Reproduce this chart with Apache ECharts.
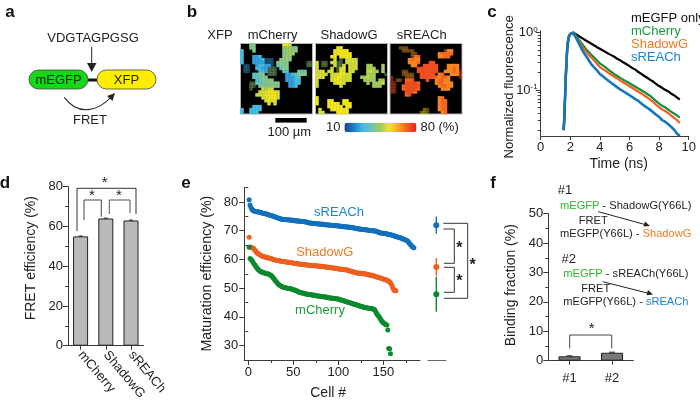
<!DOCTYPE html>
<html><head><meta charset="utf-8">
<style>html,body{margin:0;padding:0;background:#fff}#c{width:700px;height:405px}</style>
<script src="https://cdn.jsdelivr.net/npm/echarts@6/dist/echarts.min.js"></script>
</head><body><div id="c"></div>
<script>
// ---- panel c: fluorescence decay
const timeNs=[1.55,1.6,1.7,1.8,1.9,2.0,2.1,2.2,2.4,2.6,2.8,3.0,3.2,3.4,3.6,3.8,4.0,4.2,4.4,4.6,4.8,5.0,5.2,5.4,5.6,5.8,6.0,6.2,6.4,6.6,6.8,7.0,7.2,7.4,7.6,7.8,8.0,8.2,8.4,8.6,8.8,9.0,9.2,9.4];
const decayEGFP=[.02,.034,.17,.55,.82,.94,.99,1.0,.93,.86,.80,.74,.69,.645,.60,.555,.52,.485,.455,.425,.40,.375,.345,.325,.30,.28,.26,.24,.225,.205,.19,.175,.163,.15,.14,.127,.117,.109,.101,.095,.087,.081,.074,.068];
const decayCherry=[.02,.034,.18,.58,.84,.95,.995,1.0,.88,.74,.63,.54,.47,.415,.37,.33,.29,.268,.244,.222,.204,.187,.173,.161,.15,.14,.131,.122,.114,.106,.099,.092,.085,.079,.071,.064,.058,.053,.05,.046,.042,.039,.036,.033];
const decayShadow=[.02,.036,.2,.62,.86,.96,1.0,.98,.82,.69,.57,.49,.42,.37,.33,.285,.25,.23,.213,.197,.182,.168,.156,.145,.135,.125,.116,.108,.1,.093,.087,.08,.074,.068,.062,.055,.05,.046,.043,.04,.036,.033,.03,.0265];
const decayReach=[.02,.034,.19,.6,.85,.95,.99,.96,.80,.635,.50,.41,.345,.285,.25,.22,.19,.173,.157,.143,.131,.12,.11,.101,.094,.087,.081,.075,.069,.064,.058,.053,.049,.045,.041,.037,.034,.03,.028,.0255,.023,.0205,.0175,.0158];
// ---- panel d
const fretNames=['mCherry','ShadowG','sREACh'];
const fretValues=[55,64,63];
const fretErrors=[.2,.2,.2];
// ---- panel e: one value per cell, sorted
const matReach=[80.8,78.9,78.2,77.5,77.1,76.9,76.8,76.7,76.6,76.6,76.5,76.5,76.4,76.3,76.2,76.1,76.0,76.0,75.9,75.8,75.7,75.6,75.5,75.4,75.3,75.2,75.1,75.0,74.9,74.8,74.7,74.5,74.4,74.3,74.2,74.1,74.0,74.0,73.9,73.9,73.9,73.8,73.8,73.8,73.7,73.7,73.7,73.6,73.6,73.6,73.5,73.5,73.5,73.4,73.4,73.4,73.3,73.3,73.3,73.2,73.2,73.2,73.1,73.0,72.9,72.9,72.8,72.7,72.7,72.6,72.6,72.5,72.5,72.5,72.4,72.4,72.4,72.3,72.3,72.3,72.2,72.2,72.2,72.2,72.1,72.1,72.1,72.0,72.0,72.0,71.9,71.9,71.9,71.8,71.8,71.8,71.7,71.7,71.7,71.6,71.6,71.6,71.5,71.5,71.5,71.4,71.4,71.4,71.3,71.3,71.3,71.2,71.2,71.1,71.1,71.0,71.0,70.9,70.8,70.8,70.7,70.7,70.6,70.6,70.5,70.5,70.4,70.4,70.3,70.3,70.3,70.2,70.2,70.1,70.1,70.1,70.0,70.0,70.0,69.9,69.9,69.8,69.7,69.6,69.4,69.3,69.2,69.2,69.1,69.1,69.0,69.0,68.9,68.9,68.8,68.7,68.7,68.6,68.5,68.4,68.3,68.2,68.1,68.0,67.9,67.8,67.7,67.6,67.5,67.4,67.2,67.1,67.0,66.9,66.8,66.6,66.4,66.1,65.6,65.2,64.9,64.5,64.2,64.1];
const matShadow=[67.7,64.3,64.2,64.1,64.0,63.8,63.4,63.0,62.5,62.2,62.0,61.8,61.6,61.4,61.2,61.1,61.0,60.9,60.8,60.7,60.6,60.5,60.5,60.4,60.3,60.2,60.1,60.0,59.9,59.8,59.7,59.6,59.6,59.5,59.5,59.4,59.4,59.3,59.3,59.2,59.2,59.1,59.1,59.0,59.0,58.9,58.9,58.8,58.8,58.7,58.7,58.6,58.6,58.5,58.5,58.4,58.4,58.3,58.3,58.3,58.2,58.2,58.2,58.1,58.1,58.1,58.0,58.0,58.0,57.9,57.9,57.9,57.8,57.8,57.8,57.7,57.7,57.7,57.6,57.6,57.6,57.5,57.5,57.5,57.4,57.4,57.4,57.3,57.3,57.2,57.2,57.1,57.1,57.0,57.0,56.9,56.9,56.8,56.8,56.7,56.7,56.7,56.6,56.6,56.5,56.5,56.4,56.4,56.3,56.3,56.2,56.1,56.0,55.9,55.8,55.7,55.6,55.5,55.5,55.4,55.3,55.3,55.2,55.2,55.2,55.1,55.1,55.0,55.0,54.9,54.9,54.8,54.7,54.7,54.6,54.5,54.5,54.4,54.3,54.2,54.1,54.0,53.9,53.8,53.7,53.6,53.5,53.4,53.3,53.2,53.1,53.0,52.9,52.7,52.6,52.4,52.2,51.9,51.4,50.6,49.9,49.3,49.2,49.1];
const matCherry=[64.2,60.3,60.1,59.7,59.2,58.6,58.2,57.8,57.3,56.9,56.5,56.2,55.9,55.7,55.6,55.5,55.4,55.3,55.2,55.1,55.0,54.9,54.8,54.7,54.5,54.2,53.9,53.5,53.1,52.7,52.3,51.9,51.5,51.2,51.0,50.8,50.6,50.5,50.3,50.2,50.2,50.1,50.0,50.0,49.9,49.9,49.8,49.7,49.6,49.5,49.4,49.3,49.1,49.0,48.9,48.7,48.6,48.5,48.4,48.3,48.2,48.1,48.1,48.0,47.9,47.9,47.8,47.8,47.7,47.7,47.6,47.6,47.5,47.5,47.4,47.4,47.3,47.3,47.2,47.2,47.1,47.1,47.0,47.0,46.9,46.9,46.8,46.8,46.7,46.7,46.6,46.6,46.5,46.5,46.4,46.4,46.3,46.3,46.2,46.2,46.1,46.0,45.9,45.8,45.7,45.6,45.5,45.4,45.3,45.2,45.1,45.0,44.9,44.8,44.7,44.6,44.5,44.4,44.3,44.2,44.1,44.0,43.9,43.8,43.7,43.6,43.5,43.4,43.4,43.3,43.2,43.1,43.1,43.0,42.9,42.9,42.8,42.8,42.7,42.6,42.2,41.5,41.0,40.6,40.2,39.8,39.2,38.7,38.3,38.0,37.7,37.5,37.3,37.2,35.4,29.0,28.9,27.2];
const matMeans=[71.9,57.4,47.9];
const matSD=[3.0,3.1,6.1];
// ---- panel f
const bindNames=['#1','#2'];
const bindValues=[1.5,2.7];
const bindErrors=[.15,.2];
// ---- panel b: coarse images, one char per cell ('.' is empty)
const imgCherry=["...55.........887.......","...55.........56655.....","3...5.........56655.....","3.............5566......","3...223.......565.......","3...2223bbb..5565.......","3...2222bbb.5555......gg",".bb..23322b.4555......gg",".bb..3322ggg.455........",".bb...332ggg..44...544..","....4455.ggg...2234555..","....44455......22234....",".....445555....22233....","...gg44455555...2233....","...gg.5555555...223.....","...g...7677.............","......7778887...........",".....77788887...........",".......778887...........","........7878............",".........7.7............","....333.................","3..3333.................","3..333.................."];
const imgShadow=["........................",".......88...............","......88888.............","......888888............",".....88.8888............","......7.g.7777..........","7.gg.77gg.7777..........","7.gg..7gg7.777...66...6.","7....7.g78.777...666..6.","777.77.g87.77....7766.6.","7777.7778877.....666...g","777..7788777...66766....","7....7887777....6666.66.","7.....7887.......6.6667.","7.......7..........666..","........................","........................","........................","8.......................","8...88...88.............","8...8888.888............","....88888.88............",".7...888888.............",".77....8888............."];
const imgReach=["........................","...ooo..................","....oooo..........o99...",".......oo.......9AAAA...",".......oAA......99AA....","......9A99..............","......999A...BB.........",".......99..BBBBB...9999.",".........BBBBBBB...99A9.","....oo...BBBBBBB..999A9f","....oooo..BBBBB.9A..999f","f....ooo..BBBBBA9AA9...f","f.oo.AAB....B..9AA99....","ff...BBBBA.....9AA999...","ff..ABBBBB......9AA99...","ff..ABBBBA.......999....","ff...BBBA...............",".....AB.................","................9A......","................9AA.....","................9AA.....","................9AA.....","...........yo...9AA.....","..........yyo....9A....."];
const imgLevels={'2':24,'3':29,'4':34,'5':40,'6':45,'7':50,'8':54,'9':66,'A':70,'B':73,b:24,g:42,y:54,o:64,f:72};
const imgDim='bgyof';

const FONT='"Liberation Sans", Arial, sans-serif', INK='#222', AXIS='#3a3a3a';
const BLUE='#1170bd', ORANGE='#ee5f1f', GREEN='#0b8a2c';
const LG='#2fb52f', LO='#f07a22', LB='#1a84d0';

const grid=[],xAxis=[],yAxis=[],series=[],graphic=[];
const line={show:true,onZero:false,lineStyle:{color:AXIS,width:1}};
const tickStyle=len=>({show:true,length:len,inside:false,lineStyle:{color:AXIS,width:1}});
const lab=(o={})=>Object.assign({color:INK,fontFamily:FONT,fontSize:13},o);
const nameStyle=(o={})=>Object.assign({color:INK,fontFamily:FONT,fontSize:14},o);
function addGrid(l,t,w,h,extra){grid.push(Object.assign({left:l,top:t,width:w,height:h,containLabel:false},extra||{}));return grid.length-1;}

// ---- c
const gc=addGrid(540.7,30.7,148,105.3);
xAxis.push({gridIndex:gc,type:'value',min:0,max:10,interval:2,axisLine:line,axisTick:tickStyle(4),splitLine:{show:false},axisLabel:lab({margin:5}),name:'Time (ns)',nameLocation:'middle',nameGap:21,nameTextStyle:nameStyle({padding:[0,0,0,8]})});
const icx=xAxis.length-1;
yAxis.push({gridIndex:gc,type:'log',logBase:10,min:0.0158,max:1.075,axisLine:line,splitLine:{show:false},
  axisTick:{...tickStyle(5),customValues:[1,0.1]},
  axisLabel:{...lab({margin:3}),customValues:[1,0.1],formatter:v=>v>=0.5?'{b|10}{s|0}':'{b|10}{s|-1}',rich:{b:{color:INK,fontFamily:FONT,fontSize:13},s:{color:INK,fontFamily:FONT,fontSize:8,verticalAlign:'top',padding:[0,0,6,0]}}},
  name:'Normalized fluorescence',nameLocation:'middle',nameGap:25,nameMoveOverlap:false,nameTextStyle:nameStyle({fontSize:13,padding:[0,7,0,0]})});
const icy=yAxis.length-1;
yAxis.push({gridIndex:gc,type:'log',logBase:10,position:'left',min:0.0158,max:1.075,axisLine:{show:false},splitLine:{show:false},axisLabel:{show:false},
  axisTick:{...tickStyle(3),customValues:[.9,.8,.7,.6,.5,.4,.3,.2,.09,.08,.07,.06,.05,.04,.03,.02]}});
const decaySeries=[['mEGFP only',decayEGFP,'#000'],['mCherry',decayCherry,'#0f8f3a'],['ShadowG',decayShadow,'#ee5f1f'],['sREACh',decayReach,'#1575bd']];
decaySeries.forEach(([n,d,c])=>series.push({name:n,type:'line',xAxisIndex:icx,yAxisIndex:icy,showSymbol:false,symbol:'none',clip:false,animation:false,
  data:d.map((v,i)=>[timeNs[i],v]),lineStyle:{color:c,width:n==='sREACh'?2.6:2.2},itemStyle:{color:c}}));

// ---- d
const gd=addGrid(68,186.7,75.6,159);
xAxis.push({gridIndex:gd,type:'category',data:fretNames,axisLine:line,axisTick:{...tickStyle(4),alignWithLabel:true},
  axisLabel:lab({rotate:-50,margin:7,align:'left',verticalAlign:'middle',interval:0})});
const idx=xAxis.length-1;
yAxis.push({gridIndex:gd,type:'value',min:0,max:80,interval:20,axisLine:line,axisTick:tickStyle(5),minorTick:{show:true,splitNumber:2,length:3,lineStyle:{color:AXIS}},minorSplitLine:{show:false},splitLine:{show:false},axisLabel:lab({margin:5}),name:'FRET efficiency (%)',nameLocation:'middle',nameGap:30,nameTextStyle:nameStyle({padding:[0,0,0,16]})});
const idy=yAxis.length-1;
series.push({name:'FRET efficiency',type:'bar',xAxisIndex:idx,yAxisIndex:idy,barWidth:15,data:fretValues,animation:false,itemStyle:{color:'#bababa',borderColor:'#222',borderWidth:1}});
function errSeries(xi,yi,vals,errs,color,width,cap){return {type:'custom',xAxisIndex:xi,yAxisIndex:yi,animation:false,silent:true,z:4,
  data:vals.map((v,i)=>[i,v,errs[i]]),
  renderItem:(p,api)=>{const a=api.coord([api.value(0),api.value(1)-api.value(2)]),b=api.coord([api.value(0),api.value(1)+api.value(2)]);
    const kids=[{type:'line',shape:{x1:a[0],y1:a[1],x2:b[0],y2:b[1]},style:{stroke:color,lineWidth:width}}];
    if(cap)kids.push({type:'line',shape:{x1:b[0]-cap,y1:b[1],x2:b[0]+cap,y2:b[1]},style:{stroke:color,lineWidth:width}});
    return {type:'group',children:kids};}};}
series.push(errSeries(idx,idy,fretValues,fretErrors,'#222',1,2));

// ---- e
const ge=addGrid(244.3,187.3,175.7,172.7);
xAxis.push({gridIndex:ge,type:'value',min:-4.4,max:190.8,axisLine:line,splitLine:{show:false},axisTick:{...tickStyle(5),customValues:[0,50,100,150]},axisLabel:{...lab({margin:6}),customValues:[0,50,100,150]},name:'Cell #',nameLocation:'middle',nameGap:26,nameTextStyle:nameStyle({padding:[0,8,0,0]})});
const iex=xAxis.length-1;
xAxis.push({gridIndex:ge,type:'value',position:'bottom',min:-4.4,max:190.8,axisLine:{show:false},splitLine:{show:false},axisLabel:{show:false},axisTick:{...tickStyle(3),customValues:[25,75,125,175]}});
yAxis.push({gridIndex:ge,type:'value',min:25,max:85.1,axisLine:line,splitLine:{show:false},axisTick:{...tickStyle(5),customValues:[30,40,50,60,70,80]},axisLabel:{...lab({margin:6}),customValues:[30,40,50,60,70,80]},name:'Maturation efficiency (%)',nameLocation:'middle',nameGap:30,nameMoveOverlap:false,nameTextStyle:nameStyle({fontSize:14.2})});
const iey=yAxis.length-1;
yAxis.push({gridIndex:ge,type:'value',position:'left',min:25,max:85.1,axisLine:{show:false},splitLine:{show:false},axisLabel:{show:false},axisTick:{...tickStyle(3),customValues:[35,45,55,65,75,85]}});
[['sREACh cells',matReach,BLUE],['ShadowG cells',matShadow,ORANGE],['mCherry cells',matCherry,GREEN]].forEach(([n,d,c])=>series.push({name:n,type:'scatter',xAxisIndex:iex,yAxisIndex:iey,symbolSize:5,animation:false,data:d.map((v,i)=>[i+1,v]),itemStyle:{color:c,opacity:1}}));

// ---- e side panel
const gs=addGrid(428,187.3,18,172.7);
xAxis.push({gridIndex:gs,type:'category',data:['0','1','2'],axisLine:{show:true,onZero:false,lineStyle:{color:'#666',width:1}},axisTick:{show:false},axisLabel:{show:false}});
const isx=xAxis.length-1;
yAxis.push({gridIndex:gs,type:'value',min:25,max:85.1,show:false,splitLine:{show:false}});
const isy=yAxis.length-1;
const sideColors=[BLUE,ORANGE,GREEN];
series.push({type:'custom',xAxisIndex:isx,yAxisIndex:isy,animation:false,silent:true,z:3,data:matMeans.map((v,i)=>[i,v,matSD[i]]),
  renderItem:(p,api)=>{const x=api.coord([1,0])[0]-0.7,a=api.coord([1,api.value(1)-api.value(2)])[1],b=api.coord([1,api.value(1)+api.value(2)])[1],m=api.coord([1,api.value(1)])[1],c=sideColors[p.dataIndex];
    return {type:'group',children:[{type:'line',shape:{x1:x,y1:a,x2:x,y2:b},style:{stroke:c,lineWidth:1.4}},{type:'circle',shape:{cx:x,cy:m,r:3},style:{fill:c}}]};}});

// ---- f
const gf=addGrid(548.3,213.7,85,147);
xAxis.push({gridIndex:gf,type:'category',data:bindNames,axisLine:line,axisTick:{...tickStyle(4),alignWithLabel:true},axisLabel:lab({margin:11,interval:0})});
const ifx=xAxis.length-1;
yAxis.push({gridIndex:gf,type:'value',min:0,max:50,interval:10,axisLine:line,axisTick:tickStyle(5),minorTick:{show:true,splitNumber:2,length:3,lineStyle:{color:AXIS}},minorSplitLine:{show:false},splitLine:{show:false},axisLabel:lab({margin:5}),name:'Binding fraction (%)',nameLocation:'middle',nameGap:30,nameTextStyle:nameStyle({padding:[0,0,0,4]})});
const ify=yAxis.length-1;
series.push({name:'Binding fraction',type:'bar',xAxisIndex:ifx,yAxisIndex:ify,barWidth:22,data:bindValues,animation:false,itemStyle:{color:'#787878',borderColor:'#222',borderWidth:1}});
series.push(errSeries(ifx,ify,bindValues,bindErrors,'#222',1,3));

// ---- b images
const cellIdx=Array.from({length:24},(_,i)=>String(i));
const imgSeries=[];
[[imgCherry,240.5],[imgShadow,315.5],[imgReach,390]].forEach(([rows,l])=>{
  const g=addGrid(l,43.5,72,70.5,{show:true,backgroundColor:'#000',borderColor:'#b5b5b5',borderWidth:1});
  xAxis.push({gridIndex:g,type:'category',data:cellIdx,show:false});
  yAxis.push({gridIndex:g,type:'category',data:cellIdx,inverse:true,show:false});
  const cells=[];
  rows.forEach((r,y)=>[...r].forEach((ch,x)=>{if(ch!=='.'){const o={value:[x,y,imgLevels[ch]]};if(imgDim.includes(ch))o.itemStyle={opacity:.42};cells.push(o);}}));
  imgSeries.push(series.length);
  series.push({type:'heatmap',xAxisIndex:xAxis.length-1,yAxisIndex:yAxis.length-1,data:cells,animation:false,silent:true,progressive:0});
});

// ---- annotations
const T=(x,y,text,o={})=>graphic.push({type:'text',silent:true,z:22,x,y,style:Object.assign({text,fill:INK,font:`13px ${FONT}`,textAlign:'center',textVerticalAlign:'middle'},o)});
const P=(pts,color='#222',w=1)=>graphic.push({type:'polyline',silent:true,z:20,shape:{points:pts},style:{stroke:color,lineWidth:w,fill:'none'}});
const H=(pts,color='#222')=>graphic.push({type:'polygon',silent:true,z:21,shape:{points:pts},style:{fill:color}});
[['a',10,12],['b',192,12],['c',492,12],['d',5,183],['e',186,183],['f',493,183]].forEach(([s,x,y])=>T(x,y,s,{font:`bold 17px ${FONT}`,fill:'#111'}));

// a
T(93,38,'VDGTAGPGSG');
P([[91.7,47],[91.7,66]]);H([[87,63],[96.5,63],[91.7,72]]);
P([[88,80],[97,80]],'#111',3);
graphic.push({type:'rect',silent:true,z:20,shape:{x:29,y:70,width:59,height:19,r:9.5},style:{fill:'#14d814',stroke:'#444',lineWidth:.8}});
graphic.push({type:'rect',silent:true,z:20,shape:{x:97,y:70,width:59,height:19,r:9.5},style:{fill:'#ffee00',stroke:'#444',lineWidth:.8}});
T(58.5,80,'mEGFP');T(126.5,80,'XFP');
graphic.push({type:'bezierCurve',silent:true,z:20,shape:{x1:64.3,y1:97.3,x2:112,y2:96,cpx1:78,cpx2:98,cpy1:116,cpy2:112},style:{stroke:'#332520',lineWidth:1.1,fill:'none'}});
H([[115,93],[112.5,101],[107,96]],'#332520');
T(90,120,'FRET');

// b
T(220,35,'XFP');T(272.7,35,'mCherry');T(349,35,'ShadowG');T(421.7,35,'sREACh');
graphic.push({type:'rect',silent:true,z:20,shape:{x:275.3,y:118,width:31.4,height:4.6},style:{fill:'#000'}});
T(289.3,132,'100 µm');

// d brackets
P([[77,231],[77,188.3],[136,188.3],[136,214]],'#333');
P([[84,220],[84,200],[101.3,200],[101.3,216.7]],'#444');
P([[109.3,214],[109.3,200],[130,200],[130,213]],'#555');
T(104.7,183,'*',{font:`15px ${FONT}`});T(92,196,'*',{font:`15px ${FONT}`});T(119,196,'*',{font:`15px ${FONT}`});

// e labels and brackets
T(339,212,'sREACh',{fill:LB});T(324.7,252.7,'ShadowG',{fill:LO});T(320,310,'mCherry',{fill:'#1c9a3e'});
P([[443.3,223.3],[467.7,223.3],[467.7,298.3],[444,298.3]],'#333');
P([[443.3,229],[454.3,229],[454.3,263.3],[444,263.3]],'#333');
P([[444,267.3],[454.3,267.3],[454.3,292.3],[444,292.3]],'#333');
T(459.3,249,'*',{font:`bold 16px ${FONT}`});T(459.3,282,'*',{font:`bold 16px ${FONT}`});T(472.7,265.5,'*',{font:`bold 16px ${FONT}`});

// f text
const FT=`11.1px ${FONT}`;
const fTxt={font:FT,textAlign:'left'};
const fRich=c=>({g:{fill:LG,font:FT},c:{fill:c,font:FT},k:{fill:INK,font:FT}});
T(565,190.7,'#1');T(568.7,259,'#2');
T(560,205.7,'{g|mEGFP}{k| - ShadowG(Y66L)}',{...fTxt,rich:fRich(LO)});
T(560,234,'{k|mEGFP(Y66L) - }{c|ShadowG}',{...fTxt,rich:fRich(LO)});
T(563.3,274,'{g|mEGFP}{k| - sREACh(Y66L)}',{...fTxt,rich:fRich(LB)});
T(563.3,302,'{k|mEGFP(Y66L) - }{c|sREACh}',{...fTxt,rich:fRich(LB)});
T(593.3,221,'FRET',{font:FT});T(595.7,289,'FRET',{font:FT});
P([[598.3,211.7],[646,224.8]]);H([[650,226],[643.5,226.6],[645,221.4]]);
P([[602.7,281.7],[649,293.4]]);H([[653,294.4],[646.5,295.2],[648,290]]);
P([[569.7,348.3],[569.7,335],[611.7,335],[611.7,348.3]],'#444');
T(591.7,329,'*',{font:`15px ${FONT}`});

const option={
  animation:false,backgroundColor:'#fff',grid,xAxis,yAxis,series,graphic,
  legend:{show:true,left:626,top:12,orient:'vertical',padding:0,itemGap:0,itemWidth:0,itemHeight:12,selectedMode:false,icon:'none',
    data:decaySeries.map(([n])=>({name:n,icon:'none',textStyle:{color:n==='mEGFP only'?'#111':n==='mCherry'?'#1c9a3e':n==='ShadowG'?LO:LB,fontFamily:FONT,fontSize:13,lineHeight:12}}))},
  visualMap:{type:'continuous',min:10,max:80,seriesIndex:imgSeries,calculable:false,orient:'horizontal',left:311,top:106,itemWidth:9.6,itemHeight:72,text:['80 (%)','10'],textGap:4,hoverLink:false,
    textStyle:{color:INK,fontFamily:FONT,fontSize:13},
    inRange:{color:['#1c3f95','#1f78c8','#3fb8e8','#6fc5b0','#a4cc5c','#f2e61e','#f9a51a','#f15a24','#e2231a']}}
};
const chart=echarts.init(document.getElementById('c'),null,{renderer:'canvas'});
chart.setOption(option);
</script></body></html>
